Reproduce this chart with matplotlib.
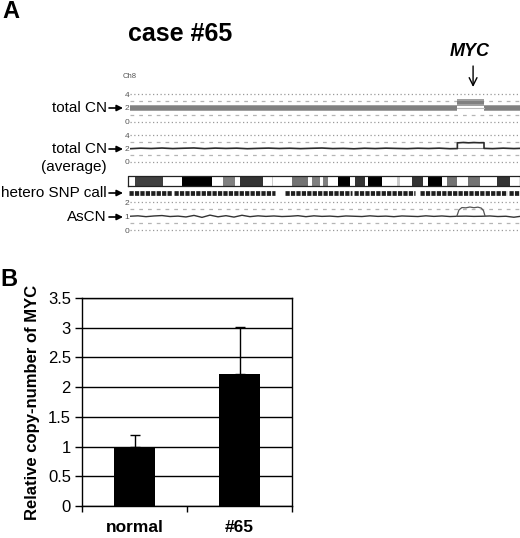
import matplotlib
matplotlib.use('Agg')
import matplotlib.pyplot as plt
import numpy as np

plt.rcParams['font.family'] = ['Liberation Sans', 'DejaVu Sans']

W, H = 520, 538
fig = plt.figure(figsize=(W / 100, H / 100), dpi=100)


def px_axes(x0, y0, x1, y1):
    return fig.add_axes([x0 / W, 1 - y1 / H, (x1 - x0) / W, (y1 - y0) / H])


# ---------------- data: panel A ----------------
CHR_LEN = 146.3  # Mb, chromosome 8
MYC_POS = 128.7

# cytoband (non-white) bands: start, end (Mb), grey level (0 = black)
band_start = [2.6, 20.1, 35.4, 41.8, 53.7, 61.2, 68.7, 72.8, 78.4, 84.7, 89.6,
              100.4, 106.0, 111.9, 119.0, 126.9, 137.7]
band_end = [13.1, 31.3, 39.9, 50.4, 54.1, 67.2, 71.6, 74.6, 82.8, 88.4, 94.8,
            101.5, 110.1, 117.2, 122.8, 131.3, 142.5]
band_grey = [0.25, 0.0, 0.5, 0.2, 0.8, 0.45, 0.5, 0.5, 0.0, 0.2, 0.0,
             0.8, 0.2, 0.0, 0.45, 0.45, 0.2]

# heterozygous SNP call blocks (Mb)
snp_start = [0.3, 17.2, 58.6, 84.3, 109.0, 142.2]
snp_end = [16.4, 54.9, 83.6, 107.1, 141.4, 146.3]

# total CN segments (raw, noisy band)
seg_start = [0.0, 122.8, 132.8]
seg_end = [122.8, 132.8, 146.3]
seg_level = [2.0, 2.8, 2.0]
seg_spread = 0.5

# total CN (average)
avg_pos = [0, 4, 8, 12, 16, 20, 24, 28, 32, 36, 40, 44, 48, 52, 56, 60, 64, 68,
           72, 76, 80, 84, 88, 92, 96, 100, 104, 108, 112, 116, 120, 122.8,
           122.8, 125, 127, 129, 131, 132.8, 132.8, 136, 140, 144, 146.3]
avg_val = [1.95, 2.03, 1.98, 2.05, 1.97, 2.02, 2.06, 1.96, 2.04, 1.99, 2.03,
           1.95, 2.00, 2.04, 1.98, 2.02, 1.96, 2.01, 2.05, 1.97, 2.00, 1.94,
           2.02, 1.97, 2.03, 1.99, 1.96, 2.02, 1.98, 2.03, 1.95, 1.97,
           2.82, 2.88, 2.83, 2.87, 2.84, 2.85, 2.00, 1.96, 2.03, 1.97, 2.00]

# allele-specific CN, lower (continuous) allele
asc_pos = [0, 3, 6, 9, 12, 15, 18, 21, 24, 27, 30, 33, 36, 39, 42, 45, 48, 51,
           54, 57, 60, 63, 66, 69, 72, 75, 78, 81, 84, 87, 90, 93, 96, 99, 102,
           105, 108, 111, 114, 117, 120, 123, 126, 129, 132, 135, 138, 141,
           144, 146.3]
asc_val = [1.00, 1.03, 0.97, 1.02, 1.05, 0.98, 1.01, 0.95, 1.06, 0.92, 1.08,
           0.96, 1.04, 0.94, 1.07, 0.97, 1.03, 0.99, 1.02, 0.98, 1.00, 1.04,
           0.97, 1.03, 0.99, 1.01, 0.97, 1.02, 1.00, 0.98, 1.03, 0.99, 1.01,
           0.97, 1.02, 1.00, 0.98, 1.03, 0.99, 1.02, 0.98, 1.00, 1.01, 0.99,
           1.00, 1.02, 0.98, 1.00, 0.93, 0.99]
# amplified allele (dome)
dome_pos = [122.6, 123.4, 124.5, 126, 127.5, 129, 130.5, 131.8, 132.6, 133.2]
dome_val = [1.00, 1.45, 1.62, 1.60, 1.66, 1.61, 1.65, 1.58, 1.40, 1.00]

# ---------------- data: panel B ----------------
categories = ['normal', '#65']
rel_cn = [1.0, 2.22]
rel_err = [0.2, 0.8]
yticks_b = [0, 0.5, 1, 1.5, 2, 2.5, 3, 3.5]
ytick_labels_b = ['0', '0.5', '1', '1.5', '2', '2.5', '3', '3.5']

# ---------------- styles ----------------
DOT = dict(color='#9a9a9a', lw=0.9, linestyle=(0, (1, 2)))
DASH = dict(color='#b5b5b5', lw=0.9, linestyle=(0, (3, 4)))
X0, X1 = 130, 520
XB = 128


def track(y0, y1, ylim, dotted, dashed, ticks):
    ax = px_axes(X0, y0, X1, y1)
    ax.set_xlim(0, CHR_LEN)
    ax.set_ylim(*ylim)
    for v in dotted:
        ax.axhline(v, **DOT, zorder=1)
    for v in dashed:
        ax.axhline(v, **DASH, zorder=1)
    for s in ax.spines.values():
        s.set_visible(False)
    ax.set_xticks([])
    ax.set_yticks(ticks)
    ax.set_yticklabels([str(t) for t in ticks])
    ax.tick_params(axis='y', length=0, pad=0.5, labelsize=6, labelcolor='#555555')
    ax.patch.set_alpha(0)
    return ax


# Track 1: total CN
ax1 = track(92, 124, (-0.29, 4.29), [0, 4], [1, 3], [0, 2, 4])
for s, e, lv in zip(seg_start, seg_end, seg_level):
    ax1.fill_between([s, e], lv - seg_spread, lv + seg_spread, color='#a0a0a0',
                     lw=0, zorder=2)
    ax1.fill_between([s, e], lv - seg_spread * 0.5, lv + seg_spread * 0.5,
                     color='#808080', lw=0, zorder=2)
ax1.plot([seg_start[1], seg_end[1]], [seg_level[0], seg_level[0]],
         color='#bbbbbb', lw=0.8, zorder=3)

# Track 2: total CN (average)
ax2 = track(133, 164, (-0.34, 4.3), [0, 4], [1, 3], [0, 2, 4])
ax2.plot(avg_pos, avg_val, color='#2a2a2a', lw=1.2, zorder=3)
ax2.plot([seg_start[1], seg_end[1]], [seg_level[0], seg_level[0]],
         color='#8a8a8a', lw=0.8, zorder=2)

# Cytoband ideogram
axb = px_axes(XB, 176, X1, 186)
axb.set_xlim(0, CHR_LEN)
axb.set_ylim(0, 1)
axb.axis('off')
for s, e, g in zip(band_start, band_end, band_grey):
    axb.fill_between([s, e], 0, 1, color=str(g), lw=0)
axb.plot([0, CHR_LEN, CHR_LEN, 0, 0], [0.02, 0.02, 0.98, 0.98, 0.02],
         color='#222222', lw=0.9, clip_on=False)

# hetero SNP call
axs = px_axes(XB, 189, X1, 196)
axs.set_xlim(0, CHR_LEN)
axs.set_ylim(0, 1)
axs.axis('off')
for s, e in zip(snp_start, snp_end):
    axs.plot([s, e], [0.5, 0.5], color='#1e1e1e', lw=3.4,
             linestyle=(0, (0.9, 0.25)), solid_capstyle='butt')

# Track 3: AsCN
ax3 = track(200, 232.5, (-0.16, 2.16), [0, 2], [0.5, 1.5], [0, 1, 2])
ax3.plot(asc_pos, asc_val, color='#333333', lw=1.0, zorder=3)
ax3.plot(dome_pos, dome_val, color='#555555', lw=0.9, zorder=3)

# ---------------- overlay (labels, arrows) ----------------
ov = fig.add_axes([0, 0, 1, 1])
ov.set_xlim(0, W)
ov.set_ylim(H, 0)
ov.axis('off')
ov.patch.set_alpha(0)

ov.text(11, 12, 'A', fontsize=17, fontweight='bold', ha='center', va='center')
ov.text(180, 34, 'case #65', fontsize=18, fontweight='bold', ha='center',
        va='center')
ov.text(123, 76, 'Ch8', fontsize=5.5, color='#555555', ha='left', va='center')

myc_x = X0 + (X1 - X0) * MYC_POS / CHR_LEN
ov.text(myc_x - 3, 52, 'MYC', fontsize=13, fontweight='bold', style='italic',
        ha='center', va='center')
ov.annotate('', xy=(myc_x, 87), xytext=(myc_x, 66),
            arrowprops=dict(arrowstyle='->', color='black', lw=1.0,
                            mutation_scale=14, shrinkA=0, shrinkB=0))

labels = [('total CN', 108), ('total CN', 149), ('hetero SNP call', 193),
          ('AsCN', 217)]
for txt, y in labels:
    ov.text(107, y, txt, fontsize=11, ha='right', va='center')
    ov.annotate('', xy=(123, y), xytext=(109, y),
                arrowprops=dict(arrowstyle='-|>', color='black', lw=1.2,
                                mutation_scale=9, shrinkA=0, shrinkB=0))
ov.text(107, 167, '(average)', fontsize=11, ha='right', va='center')

ov.text(9, 280, 'B', fontsize=17, fontweight='bold', ha='center', va='center')

# ---------------- panel B ----------------
axB = px_axes(82, 298, 292, 506)
xpos = np.arange(len(categories))
axB.bar(xpos, rel_cn, width=0.39, color='black', zorder=3)
axB.errorbar(xpos, rel_cn, yerr=[[0] * len(rel_err), rel_err], fmt='none',
             ecolor='black', elinewidth=1.0, capsize=3.5, capthick=1.0,
             zorder=4)
axB.set_xlim(-0.5, 1.5)
axB.set_ylim(0, 3.5)
axB.set_yticks(yticks_b)
axB.set_yticklabels(ytick_labels_b)
axB.yaxis.grid(True, color='black', lw=1.0, zorder=1)
axB.set_axisbelow(True)
for s in axB.spines.values():
    s.set_color('black')
    s.set_linewidth(1.0)
axB.tick_params(axis='y', direction='out', length=5, width=1, labelsize=12,
                pad=3)
axB.set_xticks(xpos)
axB.set_xticklabels(categories, fontsize=12.5, fontweight='bold')
axB.tick_params(axis='x', which='major', length=0, pad=10)
axB.set_xticks([-0.5, 0.5, 1.5], minor=True)
axB.tick_params(axis='x', which='minor', direction='out', length=4, width=1)
axB.set_ylabel('Relative copy-number of MYC', fontsize=12, fontweight='bold')
axB.yaxis.set_label_coords(-0.2, 0.5)

fig.savefig('out.png', dpi=100)
